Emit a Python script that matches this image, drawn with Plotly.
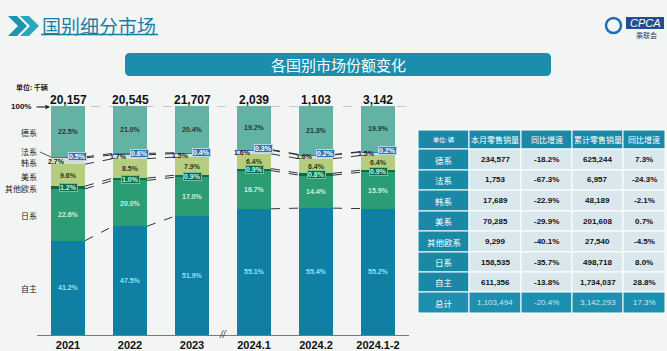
import numpy as np
import plotly.graph_objects as go

W, H = 667, 351

# ---------------- data ----------------
categories = ["2021", "2022", "2023", "2024.1", "2024.2", "2024.1-2"]
totals = ["20,157", "20,545", "21,707", "2,039", "1,103", "3,142"]
series_names = ["自主", "日系", "其他欧系", "美系", "韩系", "法系", "德系"]
zizhu = [41.2, 47.5, 51.9, 55.1, 55.4, 55.2]
rixi = [22.6, 20.0, 17.0, 16.7, 14.4, 15.9]
qitaouxi = [1.2, 1.0, 0.9, 0.9, 0.8, 0.9]
meixi = [9.6, 8.5, 7.9, 6.4, 6.4, 6.4]
hanxi = [2.7, 1.7, 1.5, 1.6, 1.6, 1.5]
faxi = [0.5, 0.6, 0.4, 0.3, 0.2, 0.2]
dexi = [22.5, 21.0, 20.4, 19.2, 21.3, 19.9]

table_header = ["单位: 辆", "本月零售销量", "同比增速", "累计零售销量", "同比增速"]
table_rows = ["德系", "法系", "韩系", "美系", "其他欧系", "日系", "自主", "总计"]
month_sales = ["234,577", "1,753", "17,689", "70,285", "9,299", "158,535", "611,356", "1,103,494"]
month_yoy = ["-18.2%", "-67.3%", "-22.9%", "-29.9%", "-40.1%", "-35.7%", "-13.8%", "-20.4%"]
cum_sales = ["625,244", "6,957", "48,189", "201,608", "27,540", "498,718", "1,734,037", "3,142,293"]
cum_yoy = ["7.3%", "-24.3%", "-2.1%", "0.7%", "-4.5%", "8.0%", "28.8%", "17.3%"]

# ---------------- styles ----------------
colors = ["#0f7fa4", "#2c9c75", "#0e6a4e", "#b6cc7e", "#d3e1c8", "#2f7bb6", "#63b3a4"]
FONT = "Liberation Sans, Arial, Noto Sans CJK SC, sans-serif"
CJK = "Noto Sans CJK SC, sans-serif"


def px(x):
    return x / W


def py(y):
    return 1 - y / H


series = [zizhu, rixi, qitaouxi, meixi, hanxi, faxi, dexi]
xs = list(range(len(categories)))
BW = 0.55

fig = go.Figure()
for name, vals, c in zip(series_names, series, colors):
    fig.add_trace(go.Bar(x=xs, y=vals, name=name, marker=dict(color=c, line=dict(width=0)),
                         width=BW, hoverinfo="skip", showlegend=False))

arr = np.array(series)            # (7, 6)
cum = np.cumsum(arr, axis=0)      # tops of each segment
bottoms = cum - arr

shapes = []
annotations = []


def note(x, y, text, size, color, family=FONT, xanchor="center", yanchor="middle",
         xref="paper", yref="paper", **kw):
    annotations.append(dict(x=x, y=y, xref=xref, yref=yref, text=text, showarrow=False,
                            xanchor=xanchor, yanchor=yanchor,
                            font=dict(size=size, color=color, family=family), **kw))


# gray dashed 100% line behind bars
shapes.append(dict(type="line", xref="x", yref="y", x0=-0.5, x1=5.5, y0=100, y1=100,
                   line=dict(color="#9a9a9a", width=1, dash="dash"), layer="below"))

# connectors between adjacent bars
pairs = [(0, 1), (1, 2), (3, 4), (4, 5)]
for a, b in pairs:
    for k in range(6):
        shapes.append(dict(type="line", xref="x", yref="y",
                           x0=a + BW / 2, x1=b - BW / 2, y0=cum[k][a], y1=cum[k][b],
                           line=dict(color="#333333", width=1, dash="dash")))

# segment labels
lab_color = {0: "#8fe2f6", 1: "#c9f0dc", 3: "#2d3a14", 6: "#1d3b35"}
for i in xs:
    for k in [0, 1, 3, 6]:
        mid = bottoms[k][i] + arr[k][i] / 2
        note(i, mid, f"<b>{arr[k][i]:.1f}%</b>", 7, lab_color[k], xref="x", yref="y")
    # 其他欧系 box
    mid = bottoms[2][i] + arr[2][i] / 2
    note(i, mid, f"<b>{arr[2][i]:.1f}%</b>", 7, "#d0f5e5", xref="x", yref="y",
         bgcolor="#0d6a4d", bordercolor="#6cc1a3", borderwidth=1, borderpad=0)
    # 韩系 label (left)
    mid = bottoms[4][i] + arr[4][i] / 2
    note(i - 0.19, mid, f"<b>{arr[4][i]:.1f}%</b>", 7, "#1a1a1a", xref="x", yref="y")
    # 法系 box (right)
    mid = bottoms[5][i] + arr[5][i] / 2 + 0.4
    note(i + 0.15, mid, f"<b>{arr[5][i]:.1f}%</b>", 7, "#ffffff", xref="x", yref="y",
         bgcolor="#2d77b3", bordercolor="#b5d8f0", borderwidth=1, borderpad=0)
    # totals
    note(i, py(100), f"<b>{totals[i]}</b>", 12, "#111111", xref="x")

# left series labels
left_y = {"德系": 132, "法系": 151, "韩系": 162, "美系": 176, "其他欧系": 188, "日系": 215, "自主": 288}
for name in series_names:
    note(px(39), py(left_y[name]), name, 8, "#222222", family=CJK, xanchor="right")
shapes.append(dict(type="line", xref="paper", yref="paper", x0=px(40), y0=py(152),
                   x1=px(51), y1=py(157), line=dict(color="#555555", width=1)))

# 100% marker
note(px(33), py(107), "<b>100%</b>", 8, "#111111", xanchor="right")
annotations.append(dict(x=px(50), y=py(107), xref="paper", yref="paper", ax=-15, ay=0,
                        text="", showarrow=True, arrowhead=2,
                        arrowsize=0.9, arrowwidth=1, arrowcolor="#222222"))
note(px(14), py(87), "<b>单位: 千辆</b>", 7, "#222222", family=CJK, xanchor="left")
# axis break
note(2.5, py(334), "<i>//</i>", 10, "#444444", xref="x")

# ---------------- header decorations ----------------
def pth(points):
    return "M " + " L ".join(f"{px(x):.5f},{py(y):.5f}" for x, y in points) + " Z"


for dx, col in [(0, "#1d93ad"), (12, "#2aa7bf")]:
    pts = [(8 + dx, 16), (17 + dx, 16), (27 + dx, 26), (17 + dx, 36), (8 + dx, 36), (18 + dx, 26)]
    shapes.append(dict(type="path", xref="paper", yref="paper", path=pth(pts),
                       fillcolor=col, line=dict(width=0)))
note(px(40), py(25), "国别细分市场", 19, "#1a7da2", family=CJK, xanchor="left")
shapes.append(dict(type="line", xref="paper", yref="paper", x0=px(41), x1=px(158),
                   y0=py(34.5), y1=py(34.5), line=dict(color="#1a7da2", width=1.3)))


def rrect(x0, y0, x1, y1, r):
    p = lambda x, y: f"{px(x):.5f},{py(y):.5f}"
    return (f"M {p(x0 + r, y0)} L {p(x1 - r, y0)} Q {p(x1, y0)} {p(x1, y0 + r)} "
            f"L {p(x1, y1 - r)} Q {p(x1, y1)} {p(x1 - r, y1)} L {p(x0 + r, y1)} "
            f"Q {p(x0, y1)} {p(x0, y1 - r)} L {p(x0, y0 + r)} Q {p(x0, y0)} {p(x0 + r, y0)} Z")


shapes.append(dict(type="path", xref="paper", yref="paper", path=rrect(125, 53, 551, 76, 5),
                   fillcolor="#1a8eac", line=dict(width=0)))
note(px(338), py(64.5), "各国别市场份额变化", 15, "#ffffff", family=CJK)

# CPCA logo
shapes.append(dict(type="circle", xref="paper", yref="paper", x0=px(606), x1=px(621),
                   y0=py(33), y1=py(18), line=dict(color="#1d6fae", width=2.5)))
shapes.append(dict(type="rect", xref="paper", yref="paper", x0=px(626), x1=px(664),
                   y0=py(29), y1=py(17), fillcolor="#1f4f8c", line=dict(width=0)))
note(px(645), py(23), "<i>CPCA</i>", 11, "#ffffff")
note(px(646), py(35), "乘联会", 7, "#1f3f70", family=CJK)

# ---------------- table (drawn with shapes) ----------------
col_edges = [418, 469, 521, 572, 623, 665]
row_edges = [130, 149, 170, 190, 211, 231, 252, 272, 292, 313]
teal = "#1b89a6"
body = "#dae8ee"
total_fill = "#1e8fae"
table_cols = [table_rows, month_sales, month_yoy, cum_sales, cum_yoy]
n = len(table_rows)
for c in range(5):
    x0, x1 = col_edges[c], col_edges[c + 1]
    xc = (x0 + x1) / 2
    # header
    y0, y1 = row_edges[0], row_edges[1]
    shapes.append(dict(type="rect", xref="paper", yref="paper", x0=px(x0), x1=px(x1),
                       y0=py(y1), y1=py(y0), fillcolor=teal, line=dict(color="#ffffff", width=1)))
    note(px(xc), py((y0 + y1) / 2), table_header[c], 6 if c == 0 else 8, "#ffffff", family=CJK)
    for r in range(n):
        y0, y1 = row_edges[r + 1], row_edges[r + 2]
        last = r == n - 1
        if c == 0:
            fill, fc = (total_fill if last else teal), "#ffffff"
            txt, fam, sz = table_cols[c][r], CJK, 8.5
        else:
            fill = total_fill if last else body
            fc = "#cbe9f2" if last else "#111111"
            txt = table_cols[c][r] if last else f"<b>{table_cols[c][r]}</b>"
            fam, sz = FONT, 8
        shapes.append(dict(type="rect", xref="paper", yref="paper", x0=px(x0), x1=px(x1),
                           y0=py(y1), y1=py(y0), fillcolor=fill,
                           line=dict(color="#ffffff", width=1)))
        note(px(xc), py((y0 + y1) / 2), txt, sz, fc, family=fam)

fig.update_layout(
    width=W, height=H, margin=dict(l=0, r=0, t=0, b=0),
    paper_bgcolor="#f3f5f5", plot_bgcolor="#f3f5f5",
    barmode="stack", showlegend=False,
    xaxis=dict(domain=[px(37), px(409)], range=[-0.5, 5.5], tickmode="array", tickvals=xs,
               ticktext=[f"<b>{c}</b>" for c in categories], showgrid=False, zeroline=False,
               showline=True, linecolor="#7a7a7a", linewidth=1, ticks="",
               tickfont=dict(size=11, color="#111111", family=FONT), fixedrange=True),
    yaxis=dict(domain=[16 / H, 245 / H], range=[0, 100], visible=False, fixedrange=True),
    shapes=shapes, annotations=annotations,
)

fig.write_html("out.html")
